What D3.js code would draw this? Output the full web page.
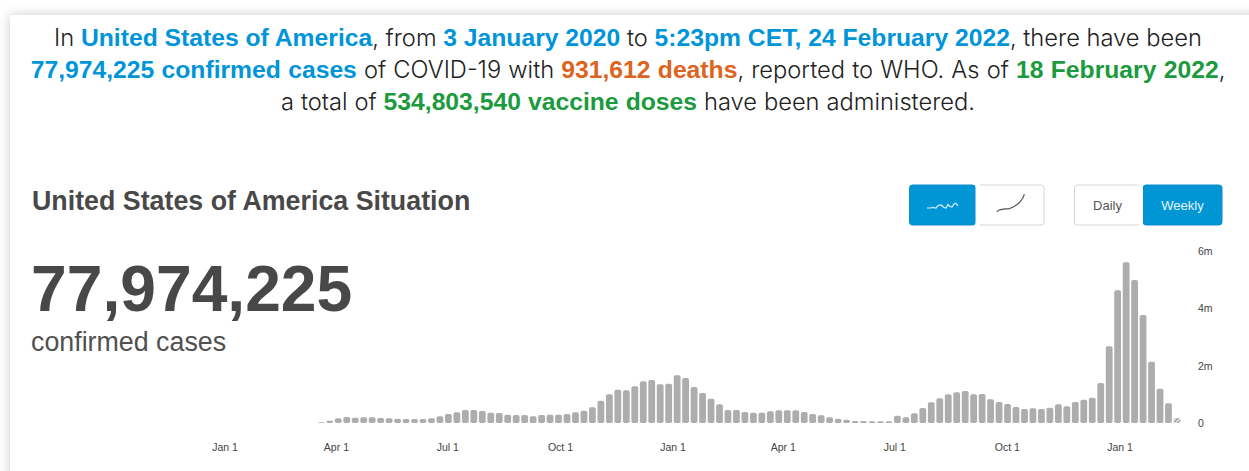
<!DOCTYPE html>
<html><head><meta charset="utf-8">
<script src="https://cdn.jsdelivr.net/npm/d3@7"></script>
<style>
html,body{margin:0;padding:0;background:#fff;overflow:hidden}
svg{display:block}
</style></head><body>
<svg id="c" width="1249" height="471"></svg>
<script>
const headlineLines=[
 [["In ",0],["United States of America",1],[", from ",0],["3 January 2020",1],[" to ",0],["5:23pm CET, 24 February 2022",1],[", there have been",0]],
 [["77,974,225 confirmed cases",1],[" of COVID-19 with ",0],["931,612 deaths",2],[", reported to WHO. As of ",0],["18 February 2022",3],[",",0]],
 [["a total of ",0],["534,803,540 vaccine doses",3],[" have been administered.",0]]
];
const firstWeek=new Date(2020,2,9);
const weeklyCases=[0.023,0.081,0.163,0.209,0.186,0.198,0.198,0.174,0.163,0.151,0.14,0.14,0.14,0.163,0.233,0.314,0.372,0.453,0.453,0.419,0.36,0.349,0.29,0.279,0.279,0.233,0.279,0.29,0.29,0.314,0.372,0.43,0.547,0.779,1.0,1.163,1.14,1.279,1.453,1.5,1.349,1.372,1.663,1.57,1.256,1.047,0.849,0.651,0.453,0.453,0.384,0.36,0.36,0.407,0.442,0.442,0.442,0.384,0.314,0.267,0.198,0.151,0.116,0.07,0.07,0.058,0.058,0.058,0.256,0.198,0.337,0.523,0.721,0.86,1.0,1.07,1.116,1.0,1.012,0.826,0.733,0.663,0.558,0.488,0.512,0.488,0.535,0.651,0.581,0.733,0.814,0.884,1.395,2.674,4.628,5.605,4.988,3.767,2.14,1.198,0.686,0.174];
const xTickDates=[new Date(2020,0,1),new Date(2020,3,1),new Date(2020,6,1),new Date(2020,9,1),new Date(2021,0,1),new Date(2021,3,1),new Date(2021,6,1),new Date(2021,9,1),new Date(2022,0,1)];
const yTicks=[0,2,4,6];
const trendIcon=[[0,5],[3,5],[6,4.5],[9,5],[11,2.5],[14,2],[17,4.5],[19,5],[21,1.5],[23,3.5],[25,4],[27,1],[29,0.5],[31,3]];
const cumulativeIcon=[[0,17.4],[3,15.5],[8,14.5],[12,14.5],[16,13],[20,10.5],[23,8],[26,4],[27.7,0]];

const weeks=weeklyCases.map((v,i)=>d3.timeDay.offset(firstWeek,i*7));
const svg=d3.select("#c");
const BLUE="#0096d6",INK="#484848";
const defs=svg.append("defs");
const f=defs.append("filter").attr("id","sh").attr("x","-5%").attr("y","-5%").attr("width","110%").attr("height","110%");
f.append("feDropShadow").attr("dx",0).attr("dy",0).attr("stdDeviation",6).attr("flood-color","#000").attr("flood-opacity",.2);
const pat=defs.append("pattern").attr("id","hatch").attr("width",3).attr("height",3).attr("patternUnits","userSpaceOnUse").attr("patternTransform","rotate(45)");
pat.append("rect").attr("width",3).attr("height",3).attr("fill","#ececec");
pat.append("rect").attr("width",1.6).attr("height",3).attr("fill","#a0a0a0");

svg.append("rect").attr("x",10).attr("y",15).attr("width",1290).attr("height",520).attr("fill","#fff").attr("filter","url(#sh)");

const colors=["#222","#0095d8","#dd6420","#1b9a3e"];
const t=svg.append("g").attr("text-anchor","middle");
headlineLines.forEach((ln,i)=>{
  const tx=t.append("text").attr("x",628).attr("y",[46,77.5,109.5][i]).style("white-space","pre")
    .attr("word-spacing",[0,0.45,0.25][i]);
  ln.forEach(([s,c])=>tx.append("tspan").text(s).attr("fill",colors[c]).attr("font-weight",c?700:300)
     .attr("font-size",c?24.7:23.7)
     .attr("font-family",c?"'Liberation Sans'":"'Inter','Liberation Sans'"));
});

svg.append("text").attr("x",32).attr("y",209.5).text("United States of America Situation")
  .attr("font-family","'Liberation Sans'").attr("font-weight",700).attr("font-size",26.8).attr("fill",INK);
svg.append("text").attr("x",31).attr("y",311).text("77,974,225")
  .attr("font-family","'Liberation Sans'").attr("font-weight",700).attr("font-size",64.2).attr("fill",INK);
svg.append("text").attr("x",31).attr("y",350.5).text("confirmed cases")
  .attr("font-family","'Liberation Sans'").attr("font-size",26.8).attr("fill","#505050");

// Buttons
function btn(x,w,fill,stroke,label){
  const g=svg.append("g");
  g.append("rect").attr("x",x).attr("y",185).attr("width",w).attr("height",40).attr("rx",3)
    .attr("fill",fill).attr("stroke",stroke);
  if(label) g.append("text").attr("x",x+w/2).attr("y",210).attr("text-anchor","middle").text(label)
    .attr("font-family","'Liberation Sans'").attr("font-size",13).attr("fill",fill===BLUE?"#e8f6fd":"#555");
}
btn(909.5,66,BLUE,"#0a8cc8");
btn(978,66,"#fff","#d6d6d6");
btn(1074.5,66,"#fff","#d6d6d6","Daily");
btn(1143,79,BLUE,"#0a8cc8","Weekly");
svg.append("rect").attr("x",975.5).attr("y",183).attr("width",4.5).attr("height",44).attr("fill","#fff");
svg.append("rect").attr("x",1139).attr("y",183).attr("width",4).attr("height",44).attr("fill","#fff");
const iconLine=d3.line();
svg.append("path").attr("d",iconLine(trendIcon)).attr("transform","translate(927,203)").attr("fill","none").attr("stroke","#dff2fb").attr("stroke-width",1.2);
svg.append("path").attr("d",iconLine(cumulativeIcon)).attr("transform","translate(996.7,194.3)").attr("fill","none").attr("stroke","#555").attr("stroke-width",1.2);

// Chart
const x=d3.scaleBand().domain(weeks).range([317.1,1181.2]).paddingInner(.2).paddingOuter(.1);
const y=d3.scaleLinear().domain([0,6]).range([423,251]);
const xLabels=d3.scaleTime().domain([new Date(2020,0,1),new Date(2022,0,1)]).range([224.5,1119.5]);
const chart=svg.append("g");
chart.selectAll("rect.bar").data(weeklyCases).join("rect").attr("class","bar")
  .attr("x",(d,i)=>x(weeks[i])).attr("width",x.bandwidth())
  .attr("y",d=>y(d)).attr("height",d=>y(0)-y(d)).attr("rx",1.8)
  .attr("fill",(d,i)=>i===weeklyCases.length-1?"url(#hatch)":"#adadad");
const ax=d3.axisBottom(xLabels).tickValues(xTickDates).tickFormat(d3.timeFormat("%b %-d")).tickSize(0).tickPadding(0);
const gx=chart.append("g").attr("transform","translate(0,444)").call(ax);
gx.select(".domain").remove();
gx.selectAll("text").attr("font-family","'Liberation Sans'").attr("font-size",10.5).attr("fill","#444");
const ay=d3.axisRight(y).tickValues(yTicks).tickFormat(d=>d?d+"m":"0").tickSize(0).tickPadding(0);
const gy=chart.append("g").attr("transform","translate(1198,0)").call(ay);
gy.select(".domain").remove();
gy.selectAll("text").attr("font-family","'Liberation Sans'").attr("font-size",10.5).attr("fill","#444");
</script></body></html>
